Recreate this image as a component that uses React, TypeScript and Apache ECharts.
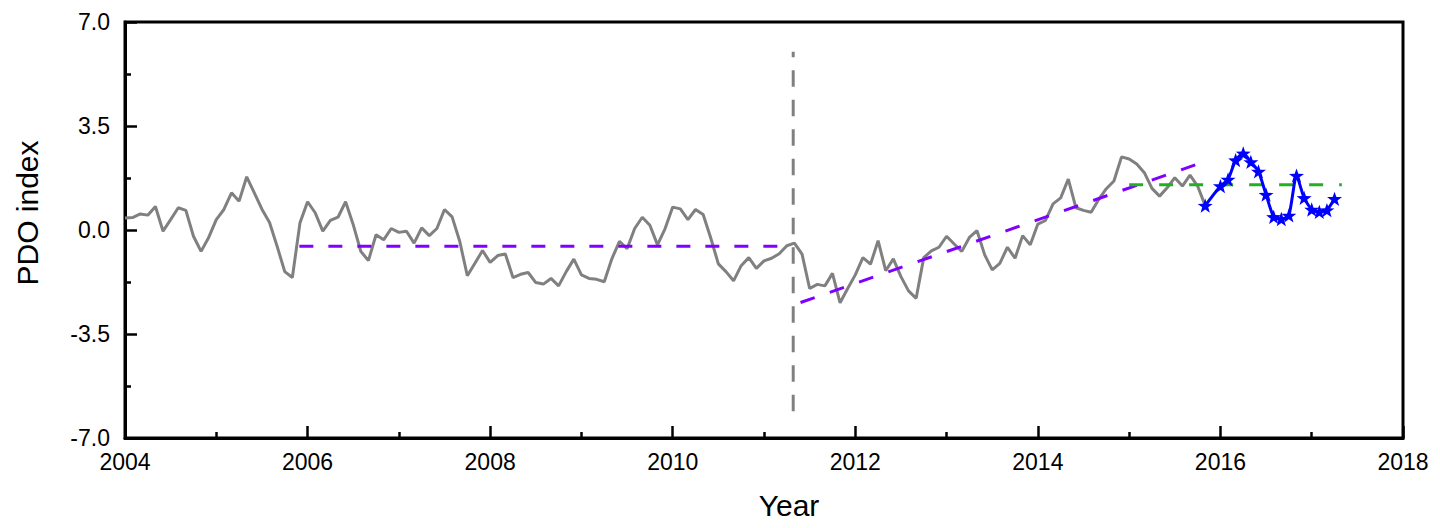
import React, { useEffect, useRef } from "react";
import * as echarts from "echarts";

// ---- data ----
const START_YEAR = 2004; // first monthly value = Jan 2004
const pdoMonthly: number[] = [
  0.40, 0.42, 0.54, 0.50, 0.79, -0.04, 0.35, 0.75, 0.66, -0.21, -0.72, -0.25,
  0.35, 0.69, 1.25, 0.97, 1.79, 1.25, 0.70, 0.25, -0.55, -1.40, -1.60, 0.24,
  0.95, 0.58, -0.04, 0.32, 0.43, 0.95, 0.18, -0.72, -1.03, -0.16, -0.33, 0.05,
  -0.08, -0.04, -0.44, 0.07, -0.19, 0.05, 0.69, 0.44, -0.38, -1.54, -1.12, -0.69,
  -1.09, -0.86, -0.81, -1.60, -1.49, -1.43, -1.77, -1.82, -1.63, -1.88, -1.40, -0.98,
  -1.51, -1.63, -1.66, -1.74, -0.97, -0.38, -0.63, 0.05, 0.43, 0.16, -0.50, 0.05,
  0.77, 0.71, 0.35, 0.69, 0.52, -0.27, -1.14, -1.40, -1.71, -1.20, -0.93, -1.29,
  -1.04, -0.95, -0.80, -0.53, -0.44, -0.81, -1.97, -1.83, -1.88, -1.46, -2.45, -1.97,
  -1.51, -0.93, -1.15, -0.36, -1.37, -0.97, -1.57, -2.05, -2.30, -0.93, -0.70, -0.58,
  -0.21, -0.47, -0.72, -0.25, -0.02, -0.83, -1.34, -1.12, -0.58, -0.95, -0.19, -0.50,
  0.20, 0.32, 0.88, 1.08, 1.71, 0.75, 0.66, 0.60, 1.03, 1.39, 1.65, 2.46,
  2.39, 2.22, 1.93, 1.40, 1.14, 1.42, 1.76, 1.48, 1.85, 1.48, 0.82,
];
const RECENT_START_INDEX = 142; // Nov 2015
const recentMonthly: (number | null)[] = [
  0.82, null, 1.48, 1.70, 2.35, 2.58, 2.29, 1.97, 1.19, 0.44, 0.37, 0.49,
  1.83, 1.08, 0.69, 0.61, 0.67, 1.05,
];
const meanBefore: [number, number][] = [[2005.91, -0.55], [2011.28, -0.55]];
const trendAfter: [number, number][] = [[2011.40, -2.44], [2015.77, 2.24]];
const meanRecent: [number, number][] = [[2015.0, 1.52], [2017.33, 1.52]];
const shiftLine: [number, number][] = [[2011.32, -6.1], [2011.32, 6.0]];
const xTicks = { min: 2004, max: 2018, step: 2 };
const yTicks = { min: -7, max: 7, step: 3.5 };

const FONT = '"Liberation Sans", Arial, sans-serif';
const STAR =
  "path://M0,-10L2.35,-3.24L9.51,-3.09L3.8,1.24L5.88,8.09L0,4L-5.88,8.09L-3.8,1.24L-9.51,-3.09L-2.35,-3.24Z";

const monthX = (i: number) => START_YEAR + i / 12;

export default function App() {
  const ref = useRef<HTMLDivElement>(null);
  useEffect(() => {
    const chart = echarts.init(ref.current!, null, { renderer: "svg" });
    const grayData = pdoMonthly.map((v, i) => [monthX(i), v]);
    const blueData = recentMonthly
      .map((v, i) => [monthX(RECENT_START_INDEX + i), v])
      .filter((d) => d[1] !== null);

    const axisCommon = {
      axisLine: { show: true, onZero: false, lineStyle: { color: "#000", width: 3 } },
      axisTick: { show: true, inside: true, length: 12, lineStyle: { color: "#000", width: 2.5 } },
      minorTick: { show: true, splitNumber: 2, length: 6, lineStyle: { color: "#000", width: 2.5 } },
      splitLine: { show: false },
      minorSplitLine: { show: false },
    };

    chart.setOption({
      animation: false,
      backgroundColor: "#fff",
      grid: {
        left: 125,
        right: 37,
        top: 22,
        bottom: 90,
        show: true,
        borderColor: "#000",
        borderWidth: 3,
        containLabel: false,
      },
      xAxis: {
        type: "value",
        min: xTicks.min,
        max: xTicks.max,
        interval: xTicks.step,
        ...axisCommon,
        axisLabel: {
          color: "#000",
          fontSize: 23,
          fontFamily: FONT,
          margin: 12,
          formatter: (v: number) => String(v),
        },
      },
      yAxis: {
        type: "value",
        min: yTicks.min,
        max: yTicks.max,
        interval: yTicks.step,
        ...axisCommon,
        axisLabel: {
          color: "#000",
          fontSize: 23,
          fontFamily: FONT,
          margin: 15,
          formatter: (v: number) => v.toFixed(1),
        },
      },
      graphic: [
        {
          type: "text",
          x: 27,
          y: 213,
          rotation: Math.PI / 2,
          style: {
            text: "PDO index",
            font: `30px ${FONT}`,
            fill: "#000",
            textAlign: "center",
            textVerticalAlign: "middle",
          },
        },
        {
          type: "text",
          x: 789,
          y: 505,
          style: {
            text: "Year",
            font: `30px ${FONT}`,
            fill: "#000",
            textAlign: "center",
            textVerticalAlign: "middle",
          },
        },
      ],
      series: [
        {
          type: "line",
          data: grayData,
          showSymbol: false,
          symbol: "none",
          lineStyle: { color: "#808080", width: 3 },
          z: 2,
        },
        {
          type: "line",
          data: meanBefore,
          symbol: "none",
          lineStyle: { color: "#8000FF", width: 3, type: [14, 15] },
          z: 3,
        },
        {
          type: "line",
          data: trendAfter,
          symbol: "none",
          lineStyle: { color: "#8000FF", width: 3, type: [15, 16] },
          z: 3,
        },
        {
          type: "line",
          data: meanRecent,
          symbol: "none",
          lineStyle: { color: "#22B022", width: 3, type: [14, 16] },
          z: 3,
        },
        {
          type: "line",
          data: shiftLine,
          symbol: "none",
          lineStyle: { color: "#808080", width: 3, type: [16.5, 13] },
          z: 3,
        },
        {
          type: "line",
          data: blueData,
          smooth: 0.2,
          symbol: STAR,
          symbolKeepAspect: true,
          symbolSize: 15,
          itemStyle: { color: "#0000FF" },
          lineStyle: { color: "#0000FF", width: 3 },
          z: 4,
        },
      ],
    });
    return () => chart.dispose();
  }, []);
  return (
    <div
      ref={ref}
      style={{ position: "fixed", left: 0, top: 0, width: 1440, height: 528, background: "#fff" }}
    />
  );
}
